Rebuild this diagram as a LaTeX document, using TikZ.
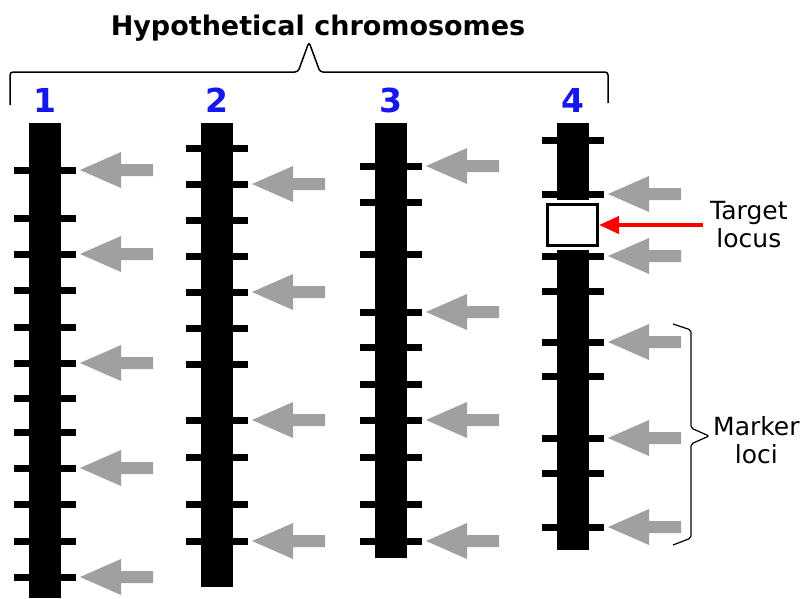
\documentclass[tikz,border=0pt]{standalone}
\usepackage{fontspec}
\setmainfont{DejaVu Sans}
\usetikzlibrary{arrows.meta,positioning}
\definecolor{numblue}{RGB}{22,22,238}
\definecolor{locgray}{RGB}{160,160,160}

\begin{document}
\begin{tikzpicture}[x=1pt, y=-1pt,
  chrom/.style={fill=black, minimum width=32pt, inner sep=0pt, anchor=north},
  num/.style={text=numblue, inner sep=0pt, font=\fontsize{33}{33}\selectfont\bfseries},
  band/.style={line width=7pt},
  brk/.style={line width=1.5pt, rounded corners=3pt},
  lbl/.style={inner sep=2pt, anchor=west, align=center, font=\fontsize{25}{28}\selectfont},
  tbox/.style={draw, fill=white, line width=3pt, minimum width=50pt, minimum height=41pt, inner sep=0pt},
  locarrow/.pic={\fill[locgray] (0,0) -- (41,-18) -- (41,-6) -- (73,-6) -- (73,6) -- (41,6) -- (41,18) -- cycle;}]
\useasboundingbox (0,0) rectangle (811,598);
\node[anchor=base, font=\fontsize{27}{30}\selectfont\bfseries] (title) at (318,35) {Hypothetical chromosomes};
\draw[brk] (10,105) -- (10,72) -- (298,72) -- (309,42) -- (320,72) -- (608,72) -- (608,103);

\node[chrom, minimum height=475pt] (c1) at (45,123) {};
\node[num, above=10pt of c1] (n1) {1};
\foreach \y in {170,218,254,290,327,363,398,432,468,504,541,577} \draw[band] (14,\y) -- (76,\y);
\foreach \y in {170,254,363,468,577} \pic at (80,\y) {locarrow};

\node[chrom, minimum height=464pt] (c2) at (217,123) {};
\node[num, above=10pt of c2] (n2) {2};
\foreach \y in {148,184,220,256,292,328,364,420,457,504,541} \draw[band] (186,\y) -- (248,\y);
\foreach \y in {184,292,420,541} \pic at (252,\y) {locarrow};

\node[chrom, minimum height=435pt] (c3) at (391,123) {};
\node[num, above=10pt of c3] (n3) {3};
\foreach \y in {166,202,254,312,347,384,420,457,504,541} \draw[band] (360,\y) -- (422,\y);
\foreach \y in {166,312,420,541} \pic at (426,\y) {locarrow};

\node[chrom, minimum height=427pt] (c4) at (573,123) {};
\node[num, above=10pt of c4] (n4) {4};
\foreach \y in {140,194,256,291,342,376,438,473,527} \draw[band] (542,\y) -- (604,\y);
\foreach \y in {194,256,342,438,527} \pic at (608,\y) {locarrow};
\fill[white] (555,200) rectangle (591,250);
\node[tbox] (target) at (572.5,225) {};

\node[lbl] (tlbl) at (708,225) {Target\\locus};
\draw[red, line width=4pt, shorten <=5pt, -{Triangle[length=20pt,width=17pt]}] (tlbl.west) -- (target.east);

\node[lbl] (mlbl) at (711,440) {Marker\\loci};
\draw[brk, line width=1.2pt, rounded corners=2pt] (673,324) -- (691,330) -- (691,428) -- (709,436) -- (691,444) -- (691,538) -- (673,545);
\end{tikzpicture}
\end{document}
